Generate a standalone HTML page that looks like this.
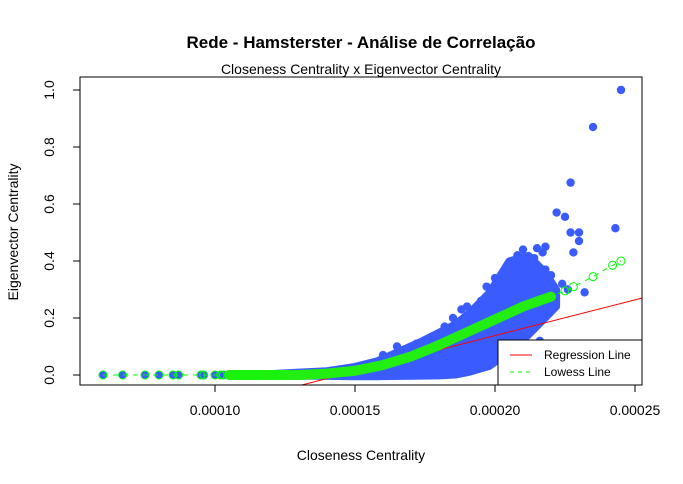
<!DOCTYPE html>
<html><head><meta charset="utf-8"><style>
body{margin:0;background:#fff}
svg{display:block;font-family:"Liberation Sans",Arial,sans-serif}
</style></head><body>
<svg id="chart" width="683" height="484">
<defs><clipPath id="plotclip"><rect x="80" y="77" width="562" height="308"/></clipPath></defs>
<text x="361" y="48" text-anchor="middle" font-size="17" font-weight="bold">Rede - Hamsterster - Análise de Correlação</text>
<text x="361" y="74" text-anchor="middle" font-size="14">Closeness Centrality x Eigenvector Centrality</text>
<text x="361" y="460" text-anchor="middle" font-size="14">Closeness Centrality</text>
<text transform="translate(18,232) rotate(-90)" text-anchor="middle" font-size="14">Eigenvector Centrality</text>
<g id="marks" clip-path="url(#plotclip)"></g>
<rect x="80" y="77" width="562" height="308" fill="none" stroke="#000"/>
<g id="axes"></g>
<g>
<rect x="498" y="340" width="144" height="45" fill="#fff" stroke="#000"/>
<line x1="510" y1="355" x2="532" y2="355" stroke="#f00"/>
<text x="544" y="359" font-size="12">Regression Line</text>
<line x1="510" y1="372" x2="532" y2="372" stroke="#0f0" stroke-dasharray="4,4"/>
<text x="544" y="376" font-size="12">Lowess Line</text>
</g>
</svg>
<script>
const xTicks=[0.00010,0.00015,0.00020,0.00025];
const xTickLabels=["0.00010","0.00015","0.00020","0.00025"];
const yTicks=[0,0.2,0.4,0.6,0.8,1.0];
const yTickLabels=["0.0","0.2","0.4","0.6","0.8","1.0"];
const bandX=[0.000105,0.00012,0.00013,0.00014,0.00015,0.000158,0.000166,0.000174,0.00018,0.000186,0.000191,0.000198,0.000205,0.000212,0.000218,0.000222];
const bandLow=[0,0,-0.004,-0.005,-0.006,-0.006,-0.005,-0.004,-0.003,0,0.01,0.03,0.08,0.14,0.2,0.24];
const bandHigh=[0,0.005,0.01,0.015,0.03,0.05,0.085,0.12,0.15,0.18,0.22,0.29,0.40,0.42,0.36,0.3];
const lowX=[0.00006,0.000067,0.000075,0.00008,0.000085,0.000087,0.000095,0.000096,0.0001,0.000102,0.000103,0.000107,0.00011,0.000113,0.000116,0.00012,0.000123];
const lowY=[0,0,0,0,0,0,0,0,0,0,0,0,0,0,0,0,0];
const outX=[0.000245,0.000235,0.000227,0.000243,0.000222,0.000225,0.000227,0.00023,0.00023,0.000228,0.000215,0.00021,0.000218,0.000232,0.000226,0.000215,0.000213,0.00022,0.000205,0.000207,0.0002,0.00019,0.00017,0.000165,0.000195,0.0002,0.000218,0.000208,0.000212,0.000203,0.000185,0.000178,0.00016,0.000172,0.000182,0.000188,0.000193,0.000197,0.000202,0.000209,0.000214,0.000217,0.00022,0.000224,0.000216,0.000211,0.000203];
const outY=[1.0,0.87,0.675,0.515,0.57,0.555,0.5,0.5,0.47,0.43,0.445,0.44,0.45,0.29,0.3,0.36,0.28,0.24,0.38,0.36,0.3,0.24,0.09,0.1,0.26,0.34,0.37,0.42,0.4,0.27,0.2,0.13,0.07,0.11,0.17,0.23,0.21,0.31,0.33,0.39,0.41,0.43,0.35,0.32,0.12,0.1,0.06];
const lowessX=[0.00006,0.00013,0.00014,0.00015,0.00016,0.00017,0.00018,0.00019,0.0002,0.00021,0.00022,0.000225,0.000228,0.000235,0.000242,0.000245];
const lowessY=[0,0,0.005,0.015,0.035,0.065,0.105,0.15,0.195,0.24,0.275,0.295,0.31,0.345,0.385,0.4];
const lowessThickEnd=0.000224;
const regIntercept=-0.035, regX0=0.000131, regSlope=2510;
const regRange=[0.000131,0.000255];

const X=v=>215+(v-0.0001)*2.8e6;
const Y=v=>375-v*285;
const NS="http://www.w3.org/2000/svg";
const marks=document.getElementById('marks'), axes=document.getElementById('axes');
function mk(tag,attrs,parent){const e=document.createElementNS(NS,tag);for(const k in attrs)e.setAttribute(k,attrs[k]);parent.appendChild(e);return e;}

let e=mk('line',{x1:X(xTicks[0]),x2:X(xTicks[xTicks.length-1]),y1:385,y2:385,stroke:'#000'},axes);


xTicks.forEach((t,i)=>{
 let l=mk('line',{x1:X(t),x2:X(t),y1:385,y2:392,stroke:'#000'},axes);
 
 
 let tx=mk('text',{x:X(t),y:415,'text-anchor':'middle','font-size':14},axes);tx.textContent=xTickLabels[i];
 
 
});
e=mk('line',{x1:80,x2:80,y1:Y(yTicks[0]),y2:Y(yTicks[yTicks.length-1]),stroke:'#000'},axes);


yTicks.forEach((t,i)=>{
 let l=mk('line',{x1:73,x2:80,y1:Y(t),y2:Y(t),stroke:'#000'},axes);
 
 
 let tx=mk('text',{transform:`translate(54,${Y(t)}) rotate(-90)`,'text-anchor':'middle','font-size':14},axes);tx.textContent=yTickLabels[i];
 
 
});

let pts=bandX.map((v,i)=>X(v)+','+Y(bandHigh[i])).concat(bandX.slice().reverse().map((v,j)=>{const i=bandX.length-1-j;return X(v)+','+Y(bandLow[i]);}));
e=mk('polygon',{points:pts.join(' '),fill:'#3a5cff',stroke:'#3a5cff','stroke-width':7,'stroke-linejoin':'round'},marks);


lowX.concat(outX).forEach((v,i)=>{
 const yv=i<lowX.length?lowY[i]:outY[i-lowX.length];
 let c=mk('circle',{cx:X(v),cy:Y(yv),r:4.2,fill:'#3a5cff'},marks);
 
 
});
e=mk('line',{x1:X(regRange[0]),y1:Y(regIntercept+(regRange[0]-regX0)*regSlope),x2:X(regRange[1]),y2:Y(regIntercept+(regRange[1]-regX0)*regSlope),stroke:'#f00','stroke-width':1},marks);


e=mk('polyline',{points:lowessX.map((v,i)=>X(v)+','+Y(lowessY[i])).join(' '),fill:'none',stroke:'#0f0','stroke-dasharray':'5,5'},marks);


const thick=lowessX.map((v,i)=>[v,lowessY[i]]).filter(p=>p[0]>=0.000105&&p[0]<=lowessThickEnd);
thick.unshift([0.000105,0]);
e=mk('polyline',{points:thick.map(p=>X(p[0])+','+Y(p[1])).join(' '),fill:'none',stroke:'#22ee11','stroke-width':10,'stroke-linecap':'round','stroke-linejoin':'round'},marks);


lowX.forEach((v,i)=>{
 let c=mk('circle',{cx:X(v),cy:Y(lowY[i]),r:4,fill:'none',stroke:'#0f0'},marks);
 
 
});
lowessX.forEach((v,i)=>{ if(v<=lowessThickEnd) return;
 let c=mk('circle',{cx:X(v),cy:Y(lowessY[i]),r:4,fill:'none',stroke:'#0f0'},marks);
 
 
});
</script>
</body></html>
